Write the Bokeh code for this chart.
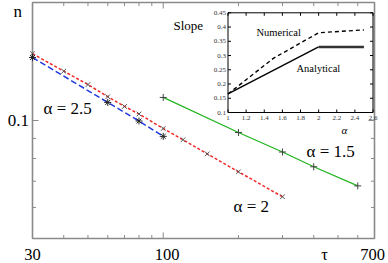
from math import log10
from bokeh.plotting import figure
from bokeh.models import LinearScale, Range1d, Label
from bokeh.core.properties import value
from bokeh.embed import file_html
from bokeh.resources import INLINE

# ---------------- data ----------------
tau_a2 = [30, 40, 50, 60, 70, 80, 100, 120, 150, 200, 300]
n_a2 = [0.148, 0.1336, 0.1235, 0.115, 0.1086, 0.1039, 0.0954, 0.0893, 0.0822, 0.0740, 0.0639]

tau_a25 = [30, 60, 80, 100]
n_a25 = [0.1448, 0.1112, 0.0997, 0.0911]

tau_a15 = [100, 200, 300, 400, 600]
n_a15 = [0.1145, 0.0932, 0.0831, 0.0762, 0.0681]

inset_alpha_num = [1.0, 1.5, 2.0, 2.5]
inset_slope_num = [0.165, 0.29, 0.38, 0.39]
inset_alpha_ana = [1.0, 2.0, 2.5]
inset_slope_ana = [0.165, 0.33, 0.33]

x_axis_range = [30, 700]
y_axis_range = [0.05, 0.2]
x_ticks = [30, 40, 50, 60, 70, 80, 90, 100, 200, 300, 400, 500, 600, 700]
x_label_ticks = [30, 100, 700]
x_label_texts = ["30", "100", "700"]
y_ticks = [0.05, 0.06, 0.07, 0.08, 0.09, 0.1, 0.2]
y_label_ticks = [0.1]
y_label_texts = ["0.1"]

inset_x_ticks = [1.0, 1.2, 1.4, 1.6, 1.8, 2.0, 2.2, 2.4, 2.6]
inset_x_labels = ["1", "1.2", "1.4", "1.6", "1.8", "2", "2.2", "2.4", "2.6"]
inset_y_ticks = [0.1, 0.15, 0.2, 0.25, 0.3, 0.35, 0.4, 0.45]
inset_y_labels = ["0.1", "0.15", "0.2", "0.25", "0.3", "0.35", "0.4", "0.45"]

# ---------------- layout (canvas pixels) ----------------
W, H = 388, 263
RL, RR, RT, RB = 32, 374, 2, 238           # main axes box
IL, IR, IT, IB = 227.5, 372.5, 12.3, 112   # inset box
GRAY = "#8a8a8a"
RED = "#f02828"
BLUE = "#2038e0"
GREEN = "#22b422"
SERIF = "Liberation Serif"
TICK_MINOR, TICK_MAJOR = 3.5, 6


def px_to_x(px):
    a, b = log10(x_axis_range[0]), log10(x_axis_range[1])
    return 10 ** (a + (px - RL) / (RR - RL) * (b - a))


def px_to_y(py):
    a, b = log10(y_axis_range[0]), log10(y_axis_range[1])
    return 10 ** (b - (py - RT) / (RB - RT) * (b - a))


# the plotting frame fills the canvas; the axes box is drawn inside it
p = figure(width=W, height=H, x_axis_type="log", y_axis_type="log",
           x_axis_location=None, y_axis_location=None,
           x_range=Range1d(px_to_x(0), px_to_x(W)),
           y_range=Range1d(px_to_y(H), px_to_y(0)),
           output_backend="svg", toolbar_location=None,
           min_border_left=0, min_border_right=0, min_border_top=0, min_border_bottom=0)
p.grid.visible = False
p.outline_line_color = None
p.background_fill_color = "white"
p.border_fill_color = "white"

# ---------------- axes box, ticks, tick labels ----------------
x0, x1 = x_axis_range
y0, y1 = y_axis_range
p.quad(left=[x0], right=[x1], bottom=[y0], top=[y1], fill_color=None,
       line_color=GRAY, line_width=1.6)


def tick_len(t, labelled):
    return TICK_MAJOR if t in labelled else TICK_MINOR


nxt, nyt = len(x_ticks), len(y_ticks)
p.segment(x0=x_ticks, x1=x_ticks, y0=[y0] * nxt,
          y1=[px_to_y(RB - tick_len(t, x_label_ticks)) for t in x_ticks],
          line_color=GRAY, line_width=1)
p.segment(x0=x_ticks, x1=x_ticks, y0=[y1] * nxt,
          y1=[px_to_y(RT + tick_len(t, x_label_ticks)) for t in x_ticks],
          line_color=GRAY, line_width=1)
p.segment(x0=[x0] * nyt, x1=[px_to_x(RL + tick_len(t, y_label_ticks)) for t in y_ticks],
          y0=y_ticks, y1=y_ticks, line_color=GRAY, line_width=1)
p.segment(x0=[x1] * nyt, x1=[px_to_x(RR - tick_len(t, y_label_ticks)) for t in y_ticks],
          y0=y_ticks, y1=y_ticks, line_color=GRAY, line_width=1)

p.text(x=x_label_ticks, y=[px_to_y(254)] * len(x_label_ticks), text=x_label_texts,
       x_offset=[0, 4, -2], text_font=value(SERIF), text_font_size="16.5px",
       text_align="center", text_baseline="middle", text_color="black")
p.text(x=[px_to_x(28.5)] * len(y_label_ticks), y=y_label_ticks, text=y_label_texts,
       text_font=value(SERIF), text_font_size="17px",
       text_align="right", text_baseline="middle", text_color="black")

# ---------------- main curves ----------------
p.line(tau_a25, n_a25, line_color=BLUE, line_width=1.5, line_dash="6 3")
p.line(tau_a2, n_a2, line_color=RED, line_width=1.5, line_dash="3 2")
p.line(tau_a15, n_a15, line_color=GREEN, line_width=1.3)
p.scatter(tau_a2, n_a2, marker="x", size=6.5, line_color="#555555", line_width=1)
p.scatter(tau_a25, n_a25, marker="asterisk", size=7, line_color="#222222", line_width=1)
p.scatter(tau_a15, n_a15, marker="cross", size=7, line_color="#444444", line_width=1)

# ---------------- inset ----------------
x0i, x1i = inset_x_ticks[0], inset_x_ticks[-1]
y0i, y1i = inset_y_ticks[0], inset_y_ticks[-1]
sx = (x1i - x0i) / (IR - IL)
sy = (y1i - y0i) / (IB - IT)
p.extra_x_ranges = {"inset": Range1d(x0i - IL * sx, x1i + (W - IR) * sx)}
p.extra_y_ranges = {"inset": Range1d(y0i - (H - IB) * sy, y1i + IT * sy)}
p.extra_x_scales = {"inset": LinearScale()}
p.extra_y_scales = {"inset": LinearScale()}
kw = dict(x_range_name="inset", y_range_name="inset")

p.quad(left=[x0i], right=[x1i], bottom=[y0i], top=[y1i], fill_color="white",
       line_color="black", line_width=1, **kw)
TL = 3
nx, ny = len(inset_x_ticks), len(inset_y_ticks)
p.segment(x0=inset_x_ticks, x1=inset_x_ticks, y0=[y0i] * nx, y1=[y0i + TL * sy] * nx,
          line_color="black", line_width=1, **kw)
p.segment(x0=inset_x_ticks, x1=inset_x_ticks, y0=[y1i] * nx, y1=[y1i - TL * sy] * nx,
          line_color="black", line_width=1, **kw)
p.segment(x0=[x0i] * ny, x1=[x0i + TL * sx] * ny, y0=inset_y_ticks, y1=inset_y_ticks,
          line_color="black", line_width=1, **kw)
p.segment(x0=[x1i] * ny, x1=[x1i - TL * sx] * ny, y0=inset_y_ticks, y1=inset_y_ticks,
          line_color="black", line_width=1, **kw)
p.text(x=inset_x_ticks, y=[y0i] * nx, text=inset_x_labels, text_font=value(SERIF),
       text_font_size="7px", text_align="center", text_baseline="top", y_offset=3,
       text_color="#333333", **kw)
p.text(x=[x0i] * ny, y=inset_y_ticks, text=inset_y_labels, text_font=value(SERIF),
       text_font_size="7px", text_align="right", text_baseline="middle", x_offset=-2,
       text_color="#333333", **kw)

p.line(inset_alpha_num, inset_slope_num, line_color="black", line_width=1.4,
       line_dash="4 3", **kw)
p.line(inset_alpha_ana[:2], inset_slope_ana[:2], line_color="black", line_width=1.4, **kw)
p.line(inset_alpha_ana[1:], inset_slope_ana[1:], line_color="#333333", line_width=2.6, **kw)

# ---------------- text labels (y = visual centre line) ----------------
def add_label(px, py, text, size, align="left", style="normal"):
    p.add_layout(Label(x=px_to_x(px), y=px_to_y(py), text=text, text_font=SERIF,
                       text_font_size=size, text_align=align,
                       text_baseline="middle", text_color="black",
                       text_font_style=style))


add_label(13, 10.8, "n", "17px")
add_label(324, 254, "τ", "16.5px", align="center")
add_label(43, 107.5, "α = 2.5", "17px")
add_label(306, 151, "α = 1.5", "17px")
add_label(233, 206, "α = 2", "17px")
add_label(173, 25, "Slope", "13px")
add_label(256, 32, "Numerical", "10.5px")
add_label(296, 67.5, "Analytical", "10.5px")
add_label(341, 129, "α", "11px", style="italic")

open("out.html", "w").write(file_html(p, INLINE))
